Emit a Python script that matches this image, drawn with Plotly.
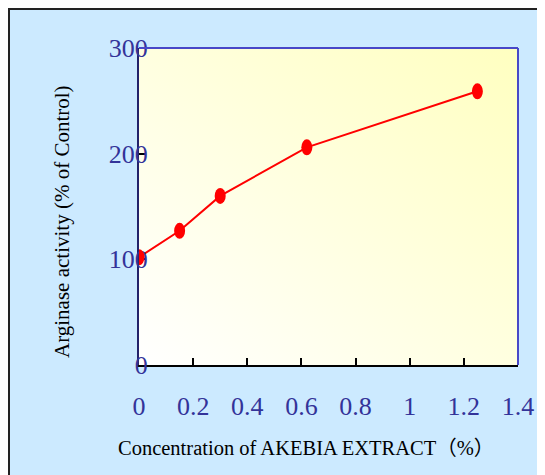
import base64
import plotly.graph_objects as go

# Data
concentration = [0.0, 0.15, 0.3, 0.62, 1.25]
activity = [102, 127, 160, 206, 259]
x_ticks = [0, 0.2, 0.4, 0.6, 0.8, 1.0, 1.2, 1.4]
x_tick_labels = ["0", "0.2", "0.4", "0.6", "0.8", "1", "1.2", "1.4"]
y_ticks = [0, 100, 200, 300]
y_tick_labels = ["0", "100", "200", "300"]

W, H = 545, 475
L, R, T, B = 131, 35, 40, 118
pw, ph = W - L - R, H - T - B

def px_to_paper_x(px):
    return (px - L) / pw

def px_to_paper_y(py):
    return (H - B - py) / ph

svg = ("<svg xmlns='http://www.w3.org/2000/svg' width='200' height='200' preserveAspectRatio='none'>"
       "<defs><linearGradient id='g' x1='0' y1='1' x2='1' y2='0'>"
       "<stop offset='0' stop-color='#ffffff'/><stop offset='1' stop-color='#ffffc0'/>"
       "</linearGradient></defs><rect width='200' height='200' fill='url(#g)'/></svg>")
svg_uri = "data:image/svg+xml;base64," + base64.b64encode(svg.encode()).decode()

blue_bg = "#cceaff"
label_color = "#333399"

fig = go.Figure()
fig.add_trace(go.Scatter(
    x=concentration, y=activity, mode="lines",
    line=dict(color="#ff0000", width=2),
    cliponaxis=False, showlegend=False,
))

shapes = []
# outer frame at the figure edge
shapes.append(dict(type="rect", xref="paper", yref="paper", layer="above",
                   x0=px_to_paper_x(1), x1=px_to_paper_x(W + 20),
                   y0=px_to_paper_y(H + 20), y1=px_to_paper_y(1),
                   fillcolor="rgba(0,0,0,0)", line=dict(color="#222222", width=2)))
# top and right border of plot
shapes.append(dict(type="line", xref="paper", yref="paper", x0=0, x1=1, y0=1, y1=1,
                   line=dict(color="#4848c8", width=2)))
shapes.append(dict(type="line", xref="paper", yref="paper", x0=1, x1=1, y0=0, y1=1,
                   line=dict(color="#4848c8", width=2)))
# ellipse markers anchored at data points
for xv, yv in zip(concentration, activity):
    shapes.append(dict(type="circle", xref="x", yref="y",
                       xsizemode="pixel", ysizemode="pixel",
                       xanchor=xv, yanchor=yv,
                       x0=-5.5, x1=5.5, y0=-8, y1=8,
                       fillcolor="#ff0000", line=dict(color="#ff0000", width=0)))

fig.update_layout(
    width=W, height=H,
    margin=dict(l=L, r=R, t=T, b=B),
    paper_bgcolor=blue_bg,
    plot_bgcolor="rgba(0,0,0,0)",
    shapes=shapes,
    images=[dict(source=svg_uri, xref="paper", yref="paper", x=0, y=1,
                 sizex=1, sizey=1, xanchor="left", yanchor="top",
                 sizing="stretch", layer="below")],
    xaxis=dict(
        range=[0, 1.4], tickvals=x_ticks, ticktext=x_tick_labels,
        showgrid=False, zeroline=False,
        showline=True, linecolor="#000000", linewidth=2,
        ticks="inside", ticklen=7, tickwidth=1.5, tickcolor="#000000",
        tickfont=dict(family="Liberation Serif", size=26, color=label_color),
        ticklabelstandoff=17,
    ),
    yaxis=dict(
        range=[0, 300], tickvals=y_ticks, ticktext=y_tick_labels,
        showgrid=False, zeroline=False,
        showline=True, linecolor="#22226a", linewidth=2,
        ticks="inside", ticklen=7, tickwidth=1.5, tickcolor="#000000",
        tickfont=dict(family="Liberation Serif", size=26, color=label_color),
        ticklabelstandoff=-16,
    ),
    annotations=[
        dict(text="Concentration of AKEBIA EXTRACT（%）", xref="paper", yref="paper",
             x=px_to_paper_x(298), y=px_to_paper_y(440), showarrow=False,
             xanchor="center", yanchor="middle",
             font=dict(family="Liberation Serif, Noto Sans CJK SC", size=20.5, color="#000000")),
        dict(text="Arginase activity (% of Control)", xref="paper", yref="paper",
             x=px_to_paper_x(54), y=px_to_paper_y(214), showarrow=False, textangle=-90,
             xanchor="center", yanchor="middle",
             font=dict(family="Liberation Serif", size=21, color="#000000")),
    ],
)

fig.write_html("out.html")
